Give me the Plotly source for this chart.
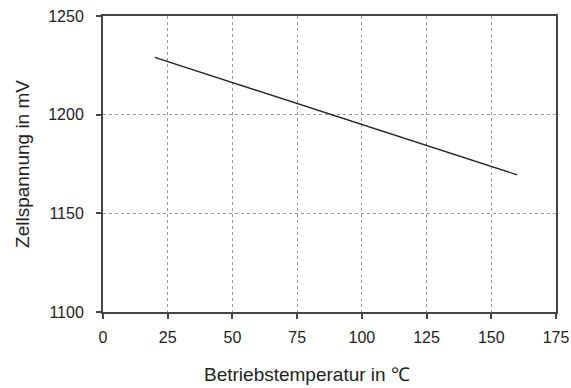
import plotly.graph_objects as go

temperature = [20, 160]
voltage = [1229, 1169.5]
x_ticks = [0, 25, 50, 75, 100, 125, 150, 175]
y_ticks = [1100, 1150, 1200, 1250]
x_title = "Betriebstemperatur in ℃"
y_title = "Zellspannung in mV"

FONT = "Liberation Sans, Arial, Helvetica"

axis_common = dict(showline=True, linecolor="#444444", linewidth=2, mirror=True,
                   ticks="outside", ticklen=5, tickwidth=1.5, tickcolor="#444444",
                   showgrid=True, gridcolor="#999999", griddash="dot", gridwidth=1,
                   zeroline=False, automargin=False, ticklabeloverflow="allow",
                   tickfont=dict(family=FONT, size=16, color="#222222"))

fig = go.Figure()
fig.add_trace(go.Scatter(x=temperature, y=voltage, mode="lines",
                         line=dict(color="#222222", width=1.4), showlegend=False))

fig.update_layout(
    width=571, height=388,
    margin=dict(l=103, r=15, t=16, b=76),
    paper_bgcolor="white", plot_bgcolor="white",
    font=dict(family=FONT, size=16, color="#222222"),
    xaxis=dict(range=[0, 175], tickvals=x_ticks, ticklabelstandoff=5, **axis_common),
    yaxis=dict(range=[1100, 1250], tickvals=y_ticks, ticklabelstandoff=9,
               title=dict(text=y_title, standoff=14,
                          font=dict(family=FONT, size=19, color="#222222")),
               **axis_common),
    annotations=[dict(text=x_title, xref="paper", yref="paper", x=0.45, y=-0.21,
                      xanchor="center", yanchor="middle", showarrow=False,
                      font=dict(family=FONT, size=19, color="#222222"))],
)
fig.write_html("out.html", config={"displayModeBar": False},
               post_script="document.body.style.margin='0';")
